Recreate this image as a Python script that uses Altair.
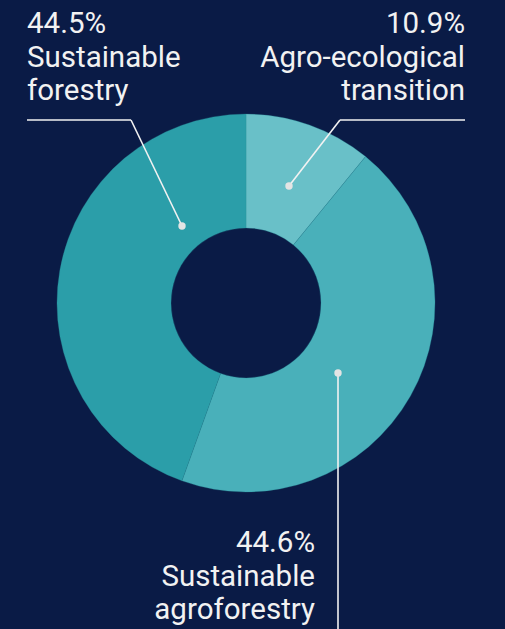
import altair as alt
import pandas as pd

# Data
categories = ["Agro-ecological transition", "Sustainable agroforestry", "Sustainable forestry"]
values = [10.9, 44.6, 44.5]
label_lines = [["10.9%", "Agro-ecological", "transition"],
               ["44.6%", "Sustainable", "agroforestry"],
               ["44.5%", "Sustainable", "forestry"]]
colors = ["#69c0c8", "#49b0ba", "#2b9ea9"]

# Annotation layout (pixel space)
label_x = [465, 315, 27]
label_y = [33, 552, 33]
label_align = ["right", "right", "left"]
dot_x = [289, 338, 182]
dot_y = [186, 373, 226]
elbow_x = [340, 338, 131]
elbow_y = [120, 629, 120]
end_x = [465, 338, 27]
end_y = [120, 629, 120]

W, H = 505, 629
CX, CY = 246, 303
BG = "#0a1b46"
FG = "#f2f2f2"

df = pd.DataFrame({"cat": categories, "value": values, "order": [0, 1, 2]})

xs = alt.Scale(domain=[0, W], range=[0, W])
ys = alt.Scale(domain=[0, H], range=[0, H])

donut = alt.Chart(df).mark_arc(innerRadius=75, outerRadius=189, stroke="#2a8f99", strokeWidth=0.3).encode(
    theta=alt.Theta("value:Q", stack=True),
    color=alt.Color("cat:N", scale=alt.Scale(domain=categories, range=colors), legend=None),
    order=alt.Order("order:Q"),
    x=alt.value(CX),
    y=alt.value(CY),
)

seg_rows = []
for i in range(3):
    seg_rows.append({"x": dot_x[i], "y": dot_y[i], "x2": elbow_x[i], "y2": elbow_y[i]})
    seg_rows.append({"x": elbow_x[i], "y": elbow_y[i], "x2": end_x[i], "y2": end_y[i]})
segs = pd.DataFrame(seg_rows)

rules = alt.Chart(segs).mark_rule(color=FG, strokeWidth=1.6).encode(
    x=alt.X("x:Q", scale=xs, axis=None),
    y=alt.Y("y:Q", scale=ys, axis=None),
    x2="x2:Q",
    y2="y2:Q",
)

dots_df = pd.DataFrame({"x": dot_x, "y": dot_y})
dots = alt.Chart(dots_df).mark_circle(color="#e4e4e4", opacity=1, size=55).encode(
    x=alt.X("x:Q", scale=xs, axis=None),
    y=alt.Y("y:Q", scale=ys, axis=None),
)

text_layers = []
for i in range(3):
    tdf = pd.DataFrame({"x": [label_x[i]], "y": [label_y[i]], "t": ["\n".join(label_lines[i])]})
    text_layers.append(
        alt.Chart(tdf).mark_text(
            align=label_align[i], baseline="alphabetic", font="Roboto", fontSize=29.5,
            lineBreak="\n", lineHeight=33.5, color=FG,
        ).encode(
            x=alt.X("x:Q", scale=xs, axis=None),
            y=alt.Y("y:Q", scale=ys, axis=None),
            text="t:N",
        )
    )

chart = alt.layer(donut, rules, dots, *text_layers).properties(
    width=W, height=H, background=BG, padding=0,
    autosize=alt.AutoSizeParams(type="none"),
).configure_view(stroke=None)

chart.save("out.html", embed_options={"renderer": "svg", "actions": False})
